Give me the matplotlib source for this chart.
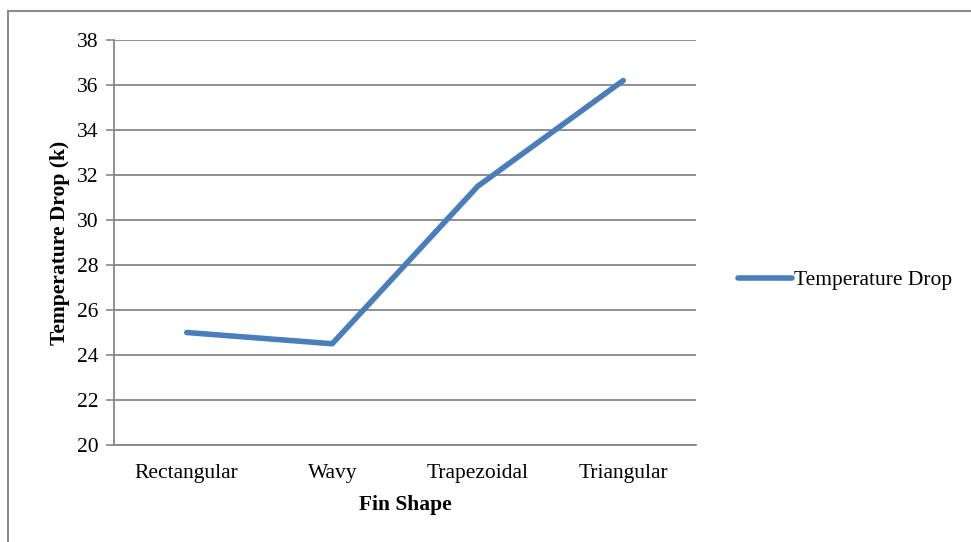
import matplotlib
matplotlib.use("Agg")
import matplotlib.pyplot as plt
from matplotlib.patches import Rectangle

# chart data
fin_shapes = ["Rectangular", "Wavy", "Trapezoidal", "Triangular"]
temperature_drop = [25.0, 24.5, 31.5, 36.2]
y_ticks = [20, 22, 24, 26, 28, 30, 32, 34, 36, 38]

plt.rcParams['font.family'] = ['Liberation Serif', 'DejaVu Serif']
fs = 15.5

fig = plt.figure(figsize=(9.71, 5.42), dpi=100)
ax = fig.add_axes([114 / 971, 1 - 445 / 542, (696 - 114) / 971, (445 - 40) / 542])

x = list(range(len(fin_shapes)))
line, = ax.plot(x, temperature_drop, color="#4A7EBB", linewidth=4.0,
                solid_capstyle="round", label="Temperature Drop")

ax.set_xlim(-0.5, len(fin_shapes) - 0.5)
ax.set_ylim(20, 38)
ax.set_yticks(y_ticks)
ax.set_xticks(x)
ax.set_xticklabels(fin_shapes)
ax.tick_params(axis="y", length=6, width=1.2, color="#868686", labelsize=fs, pad=5)
ax.tick_params(axis="x", length=0, labelsize=fs, pad=14)
ax.grid(axis="y", color="#868686", linewidth=1.3)
ax.set_axisbelow(True)

for side in ["top", "right"]:
    ax.spines[side].set_visible(False)
ax.spines["left"].set_color("#868686")
ax.spines["left"].set_linewidth(1.3)
ax.spines["bottom"].set_color("#868686")
ax.spines["bottom"].set_linewidth(1.3)

ax.set_ylabel("Temperature Drop (k)", fontsize=fs, fontweight="bold", labelpad=5)
ax.set_xlabel("Fin Shape", fontsize=fs, fontweight="bold", labelpad=8)

fig.legend(handles=[line], loc="center left", bbox_to_anchor=(719 / 971, 1 - 280 / 542),
           frameon=False, fontsize=fs, handlelength=2.5, handletextpad=0.1)

# outer chart border (left and top edges visible)
fig.patches.append(Rectangle((8 / 971, -0.1), 1.2, 1 - 11 / 542 + 0.1,
                             transform=fig.transFigure, fill=False,
                             edgecolor="#8c8c8c", linewidth=1.5))

fig.savefig("out.png", dpi=100)
